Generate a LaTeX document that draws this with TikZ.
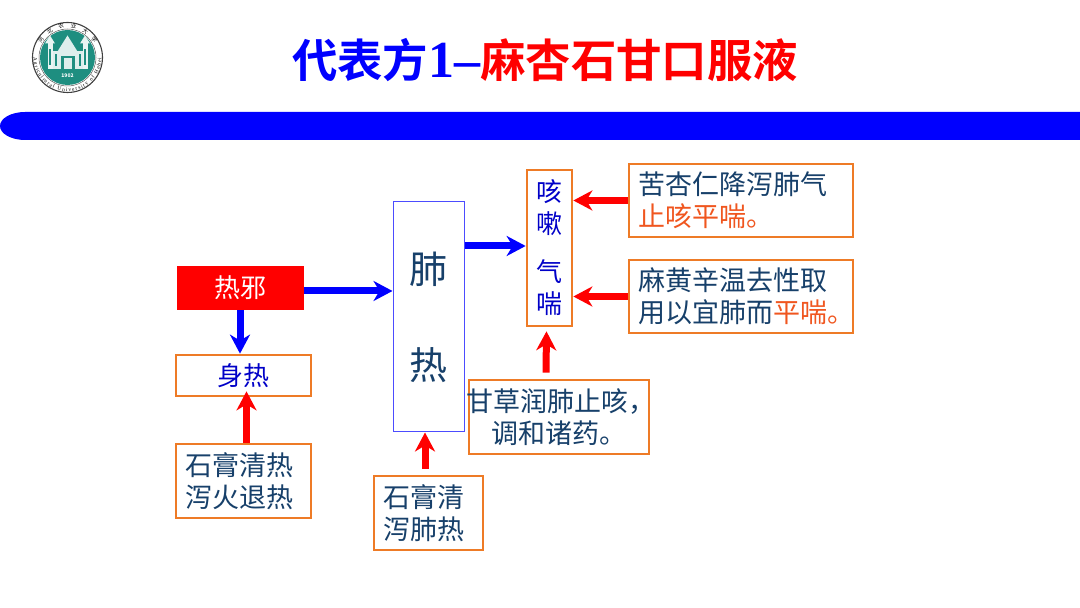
\documentclass[tikz,border=0pt]{standalone}
\usepackage{fontspec}
\usepackage{xcolor}
\usetikzlibrary{arrows.meta,calc,decorations.text}
\setmainfont{Noto Sans CJK SC}
\newfontfamily\cjktitle[BoldFont={* Bold}]{Noto Sans CJK SC}
\newfontfamily\numtitle{Liberation Serif}
\definecolor{ink}{HTML}{17406A}
\definecolor{deepblue}{HTML}{0000C8}
\definecolor{accent}{HTML}{F0561F}
\definecolor{edge}{HTML}{EE7B26}
\definecolor{teal}{HTML}{1E8E80}
\tikzset{
  orangebox/.style={draw=edge,line width=2.7pt,fill=white,inner sep=0pt,text=ink,font=\fontsize{27}{32}\selectfont},
  redarrow/.style={-{Stealth[length=19pt,width=20pt,inset=6pt]},line width=7pt,red},
  bluearrow/.style={-{Stealth[length=19pt,width=20pt,inset=6pt]},line width=7pt,blue},
}
\begin{document}
\begin{tikzpicture}[x=1pt,y=1pt]
\useasboundingbox (0,0) rectangle (1080,608);
\fill[white] (0,0) rectangle (1080,608);
\fill[blue] (1080,496) -- (25,496) arc[start angle=90,end angle=270,x radius=25,y radius=14] -- (1080,468) -- cycle;
\node[inner sep=0pt,font=\fontsize{45.4}{45}\selectfont\bfseries\cjktitle] (title) at (545,548) {\textcolor{blue}{代表方{\numtitle\bfseries\fontsize{52}{52}\selectfont 1–}}\textcolor{red}{麻杏石甘口服液}};
\begin{scope}[shift={(67.5,550.5)}]
\draw[black!75,line width=1.1pt] (0,0) circle (35);
\draw[black!65,line width=0.5pt] (0,0) circle (28.5);
\fill[teal] (0,0) circle (27.5);
\fill[white!85!teal] (-16,-12) rectangle (16,6);
\foreach \s in {-1,1}{
\fill[white!90!teal] (\s*15,-12) rectangle (\s*20,14);
\fill[white!90!teal] (\s*12.5,14) -- (\s*17.5,22) -- (\s*22.5,14) -- cycle;}
\fill[white!85!teal] (-10,6) -- (0,22) -- (10,6) -- cycle;
\fill[teal] (-7,-12) rectangle (7,1);
\fill[white!85!teal] (-4,-12) rectangle (4,-1);
\foreach \s in {-1,1}{
\fill[teal] (\s*11,-9) rectangle (\s*13,3);
\fill[teal] (\s*16.5,-8) rectangle (\s*18.5,8);}
\node[inner sep=0pt,white,font=\fontsize{5}{5}\selectfont\bfseries] (year) at (0,-18.5) {1902};
\path[decorate,decoration={text along path,text align={fit to path},text={|\fontsize{5.5}{6}\selectfont|河北农业大学}}] (152:29.8) arc[start angle=152,end angle=28,radius=29.8];
\path[decorate,decoration={text along path,text align={fit to path},text={|\fontsize{5.4}{6}\selectfont\numtitle|Agricultural University of Hebei}}] (180:34) arc[start angle=180,end angle=360,radius=34];
\end{scope}
\node[fill=red,inner sep=0pt,minimum width=127pt,minimum height=44pt,text=white,font=\fontsize{26}{32}\selectfont] (rexie) at (240.5,320) {热邪};
\node[orangebox,minimum width=135pt,minimum height=41pt,text=deepblue,font=\fontsize{26}{32}\selectfont] (shenre) at (243.5,232.5) {身热};
\node[orangebox,minimum width=135pt,minimum height=74pt,text width=117pt,align=left] (shigaoa) at (243.5,127) {石膏清热\\泻火退热};
\node[draw=blue!70!white,line width=1pt,fill=white,inner sep=0pt,minimum width=71pt,minimum height=230pt,align=center,text=ink,font=\fontsize{38}{96}\selectfont] (feire) at (428.5,291) {肺\\热};
\node[orangebox,minimum width=45pt,minimum height=156pt,align=center,text=deepblue,font=\fontsize{26}{32}\selectfont] (kesou) at (549.5,360) {咳\\嗽\\[16pt]气\\喘};
\node[orangebox,minimum width=224pt,minimum height=73pt,text width=206pt,align=left] (kuxing) at (741,407.5) {苦杏仁降泻肺气\\\textcolor{accent}{止咳平喘。}};
\node[orangebox,minimum width=224pt,minimum height=73pt,text width=206pt,align=left] (mahuang) at (741,311.5) {麻黄辛温去性取\\用以宜肺而\textcolor{accent}{平喘。}};
\node[orangebox,minimum width=180pt,minimum height=74pt,text width=180pt,align=center] (gancao) at (559,191) {\hspace*{-3pt}甘草润肺止咳，\\调和诸药。};
\node[orangebox,minimum width=109pt,minimum height=74pt,text width=91pt,align=left] (shigaob) at (428.5,95) {石膏清\\泻肺热};
\draw[bluearrow] ([yshift=-3pt]rexie.east) -- ([yshift=-3pt]rexie.east -| feire.west);
\draw[bluearrow] ([xshift=-0.5pt]rexie.south) -- ([xshift=-0.5pt]rexie.south |- shenre.north);
\draw[redarrow] ([xshift=3pt]shigaoa.north) -- ([xshift=3pt,yshift=6pt]shenre.south);
\draw[redarrow] ([xshift=-3.5pt,yshift=6pt]shigaob.north) -- ([xshift=-3.5pt]feire.south);
\draw[bluearrow] ([yshift=71pt]feire.east) -- ([yshift=71pt]feire.east -| kesou.west);
\draw[redarrow] (kuxing.west) -- (kuxing.west -| kesou.east);
\draw[redarrow] (mahuang.west) -- (mahuang.west -| kesou.east);
\draw[redarrow] ([xshift=-13pt,yshift=6pt]gancao.north) -- ([xshift=-3pt,yshift=-4pt]kesou.south);
\end{tikzpicture}
\end{document}
